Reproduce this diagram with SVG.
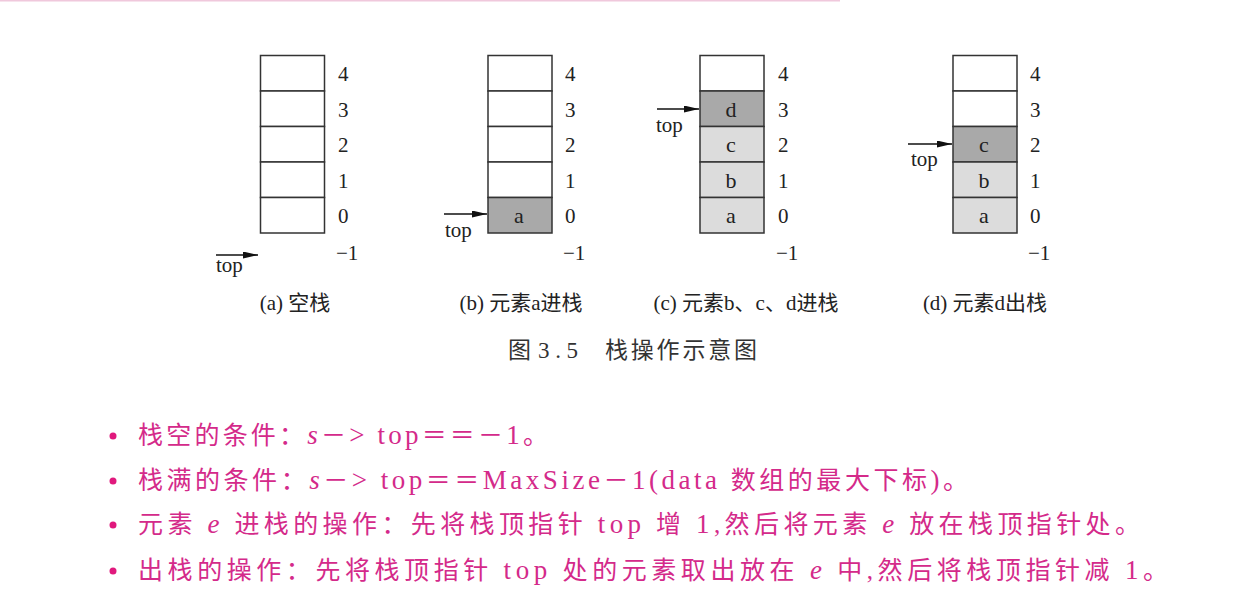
<svg xmlns="http://www.w3.org/2000/svg" width="1239" height="602" viewBox="0 0 1239 602">
<style>
.cell{stroke:#333;stroke-width:1.5}
.e{fill:#fff}.d{fill:#a9a9a9}.l{fill:#dcdcdc}
.t{font-family:"Liberation Serif","Noto Sans CJK SC",serif;fill:#222}
.n{font-size:21px}
.v{font-size:22px;text-anchor:middle}
.cap{font-size:21px;text-anchor:middle}
.ptr{stroke:#111;stroke-width:1.5;fill:none}
.b{font-family:"Liberation Serif","Noto Sans CJK SC",serif;font-size:25px;fill:#d42a8a}
.lat{font-size:27px}
.dot{fill:#e0197d}
</style>
<defs>
<marker id="ah" viewBox="0 0 10 10" refX="10" refY="5" markerWidth="15" markerHeight="7" markerUnits="userSpaceOnUse" orient="auto" preserveAspectRatio="none">
<path d="M0,0 L10,5 L0,10 z" fill="#111"/>
</marker>
</defs>
<rect width="1239" height="602" fill="#fff"/>
<line x1="0" y1="0.8" x2="840" y2="0.8" stroke="#f0c8dc" stroke-width="1.6"/>

<g id="stack-a">
<rect class="cell e" x="260.5" y="55.5" width="64" height="35.5"/>
<rect class="cell e" x="260.5" y="91" width="64" height="35.5"/>
<rect class="cell e" x="260.5" y="126.5" width="64" height="35.5"/>
<rect class="cell e" x="260.5" y="162" width="64" height="35.5"/>
<rect class="cell e" x="260.5" y="197.5" width="64" height="35.5"/>
<g class="t n"><text x="338" y="81">4</text><text x="338" y="117">3</text><text x="338" y="152">2</text><text x="338" y="188">1</text><text x="338" y="223">0</text><text x="336" y="260">−1</text></g>
<text class="t n" x="216" y="272">top</text>
<text class="t cap" x="295" y="310">(a) 空栈</text>
</g>

<g id="stack-b">
<rect class="cell e" x="488" y="55.5" width="64" height="35.5"/>
<rect class="cell e" x="488" y="91" width="64" height="35.5"/>
<rect class="cell e" x="488" y="126.5" width="64" height="35.5"/>
<rect class="cell e" x="488" y="162" width="64" height="35.5"/>
<rect class="cell d" x="488" y="197.5" width="64" height="35.5"/>
<text class="t v" x="519" y="223">a</text>
<g class="t n"><text x="565" y="81">4</text><text x="565" y="117">3</text><text x="565" y="152">2</text><text x="565" y="188">1</text><text x="565" y="223">0</text><text x="563" y="260">−1</text></g>
<text class="t n" x="445" y="237">top</text>
<text class="t cap" x="521" y="310">(b) 元素a进栈</text>
</g>

<g id="stack-c">
<rect class="cell e" x="700" y="55.5" width="64" height="35.5"/>
<rect class="cell d" x="700" y="91" width="64" height="35.5"/>
<rect class="cell l" x="700" y="126.5" width="64" height="35.5"/>
<rect class="cell l" x="700" y="162" width="64" height="35.5"/>
<rect class="cell l" x="700" y="197.5" width="64" height="35.5"/>
<g class="t v"><text x="731" y="117">d</text><text x="731" y="152">c</text><text x="731" y="188">b</text><text x="731" y="223">a</text></g>
<g class="t n"><text x="778" y="81">4</text><text x="778" y="117">3</text><text x="778" y="152">2</text><text x="778" y="188">1</text><text x="778" y="223">0</text><text x="776" y="260">−1</text></g>
<text class="t n" x="656" y="132">top</text>
<text class="t cap" x="746" y="310">(c) 元素b、c、d进栈</text>
</g>

<g id="stack-d">
<rect class="cell e" x="953" y="55.5" width="64" height="35.5"/>
<rect class="cell e" x="953" y="91" width="64" height="35.5"/>
<rect class="cell d" x="953" y="126.5" width="64" height="35.5"/>
<rect class="cell l" x="953" y="162" width="64" height="35.5"/>
<rect class="cell l" x="953" y="197.5" width="64" height="35.5"/>
<g class="t v"><text x="984" y="152">c</text><text x="984" y="188">b</text><text x="984" y="223">a</text></g>
<g class="t n"><text x="1030" y="81">4</text><text x="1030" y="117">3</text><text x="1030" y="152">2</text><text x="1030" y="188">1</text><text x="1030" y="223">0</text><text x="1028" y="260">−1</text></g>
<text class="t n" x="911" y="166">top</text>
<text class="t cap" x="985" y="310">(d) 元素d出栈</text>
</g>

<g id="connectors">
<line class="ptr" x1="216" y1="255" x2="258" y2="255" marker-end="url(#ah)"/>
<line class="ptr" x1="444" y1="214" x2="487" y2="214" marker-end="url(#ah)"/>
<line class="ptr" x1="657" y1="109" x2="699" y2="109" marker-end="url(#ah)"/>
<line class="ptr" x1="908" y1="144" x2="952" y2="144" marker-end="url(#ah)"/>
</g>

<g id="fig-caption" font-family="'Liberation Serif','Noto Sans CJK SC',serif" font-size="23" fill="#333">
<text x="508" y="358">图</text>
<text x="538" y="358" textLength="40" lengthAdjust="spacing">3.5</text>
<text x="605" y="358" textLength="152" lengthAdjust="spacing">栈操作示意图</text>
</g>

<g id="notes">
<circle class="dot" cx="113" cy="436" r="3.5"/>
<circle class="dot" cx="113" cy="481" r="3.5"/>
<circle class="dot" cx="113" cy="525" r="3.5"/>
<circle class="dot" cx="113" cy="571" r="3.5"/>
<text class="b" x="138" y="444" textLength="410" lengthAdjust="spacing">栈空的条件：<tspan class="lat" font-style="italic">s</tspan>－<tspan class="lat">&gt; top</tspan>＝＝－<tspan class="lat">1</tspan>。</text>
<text class="b" x="138" y="489" textLength="830" lengthAdjust="spacing">栈满的条件：<tspan class="lat" font-style="italic">s</tspan>－<tspan class="lat">&gt; top</tspan>＝＝<tspan class="lat">MaxSize</tspan>－<tspan class="lat">1(data </tspan>数组的最大下标<tspan class="lat">)</tspan>。</text>
<text class="b" x="138" y="533" textLength="1002" lengthAdjust="spacing">元素 <tspan class="lat" font-style="italic">e</tspan> 进栈的操作：先将栈顶指针 <tspan class="lat">top</tspan> 增 <tspan class="lat">1</tspan>,然后将元素 <tspan class="lat" font-style="italic">e</tspan> 放在栈顶指针处。</text>
<text class="b" x="138" y="579" textLength="1030" lengthAdjust="spacing">出栈的操作：先将栈顶指针 <tspan class="lat">top</tspan> 处的元素取出放在 <tspan class="lat" font-style="italic">e</tspan> 中,然后将栈顶指针减 <tspan class="lat">1</tspan>。</text>
</g>
</svg>
